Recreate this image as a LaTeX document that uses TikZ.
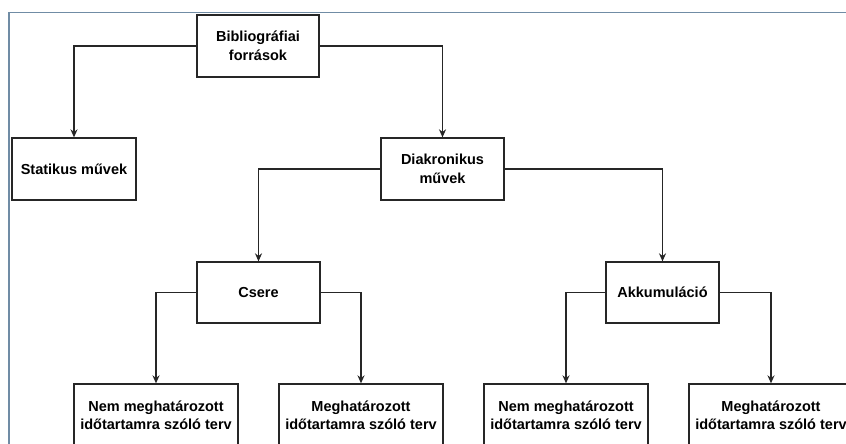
\documentclass[tikz,border=0pt]{standalone}
\usepackage{fontspec}
\setmainfont{Liberation Sans}
\usetikzlibrary{arrows.meta}
\definecolor{framecol}{RGB}{112,140,165}
\begin{document}
\begin{tikzpicture}[x=1pt,y=-1pt,
  box/.style={draw=black!85, line width=1.3pt, fill=white, rectangle, align=center, inner sep=0pt,
    font=\bfseries\fontsize{14.5}{18.5}\selectfont, minimum height=62pt},
  arr/.style={draw=black!85, line width=1.3pt, -{Stealth[length=8pt,width=7pt]}}]
\useasboundingbox (0,0) rectangle (846,444);
\clip (0,0) rectangle (846,444);
\fill[white] (0,0) rectangle (846,444);
\draw[framecol, line width=1.2pt] (9,446) -- (9,12.5) -- (848,12.5);
\node[box, minimum width=122pt] (biblio) at (258,46) {Bibliográfiai\\források};
\node[box, minimum width=124pt] (stat) at (74,169) {Statikus művek};
\node[box, minimum width=123pt] (diak) at (442.5,169) {Diakronikus\\művek};
\node[box, minimum width=123pt, minimum height=61pt] (csere) at (258.5,292.5) {Csere};
\node[box, minimum width=113pt, minimum height=61pt] (akk) at (662.5,292.5) {Akkumuláció};
\node[box, minimum width=164pt] (n1) at (156,415) {Nem meghatározott\\időtartamra szóló terv};
\node[box, minimum width=164pt] (m1) at (361,415) {Meghatározott\\időtartamra szóló terv};
\node[box, minimum width=164pt] (n2) at (566,415) {Nem meghatározott\\időtartamra szóló terv};
\node[box, minimum width=164pt] (m2) at (771,415) {Meghatározott\\időtartamra szóló terv};
\draw[arr] (biblio.west) -| (stat.north);
\draw[arr] (biblio.east) -| (diak.north);
\draw[arr] (diak.west) -| (csere.north);
\draw[arr] (diak.east) -| (akk.north);
\draw[arr] (csere.west) -| (n1.north);
\draw[arr] (csere.east) -| (m1.north);
\draw[arr] (akk.west) -| (n2.north);
\draw[arr] (akk.east) -| (m2.north);
\end{tikzpicture}
\end{document}
